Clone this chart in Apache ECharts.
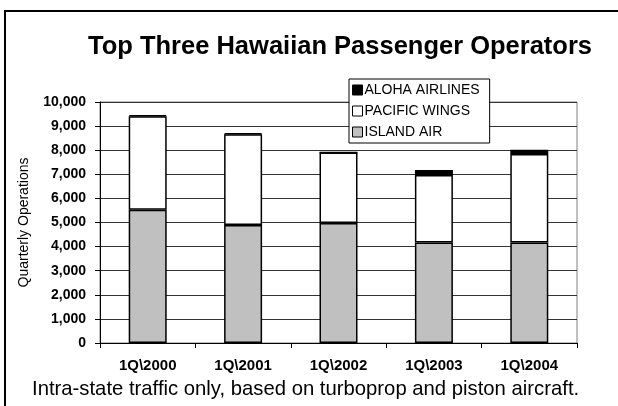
<!DOCTYPE html>
<html>
<head>
<meta charset="utf-8">
<script src="https://cdn.jsdelivr.net/npm/echarts@6/dist/echarts.min.js"></script>
<style>
  html, body { margin: 0; padding: 0; background: #fff; }
  #chart { width: 618px; height: 406px; }
</style>
</head>
<body>
<div id="chart"></div>
<script>
// Quarterly operations
var quarters = ["1Q\\2000", "1Q\\2001", "1Q\\2002", "1Q\\2003", "1Q\\2004"];
var islandAir = [5530, 4900, 4980, 4170, 4170];
var pacificWings = [3880, 3760, 2920, 2800, 3670];
var alohaAirlines = [40, 40, 0, 210, 180];

var FONT = "Liberation Sans, Arial, sans-serif";

var chartDom = document.getElementById("chart");
var myChart = echarts.init(chartDom);

var barStyle = function (color) {
  return { color: color, borderColor: "#000", borderWidth: 1.5 };
};

var option = {
  animation: false,
  backgroundColor: "#fff",
  title: {
    text: "Top Three Hawaiian Passenger Operators",
    left: 88,
    top: 34,
    padding: 0,
    textStyle: { fontFamily: FONT, fontSize: 25.5, fontWeight: "bold", color: "#000" },
  },
  legend: {
    orient: "vertical",
    left: 349,
    top: 79,
    padding: [4, 10, 4, 3],
    itemGap: 7,
    itemWidth: 10,
    itemHeight: 10,
    itemStyle: { borderColor: "#000", borderWidth: 1 },
    backgroundColor: "#fff",
    borderColor: "#000",
    borderWidth: 1,
    borderRadius: 0,
    data: [
      { name: "ALOHA AIRLINES", icon: "rect" },
      { name: "PACIFIC WINGS", icon: "rect" },
      { name: "ISLAND AIR", icon: "rect" },
    ],
    textStyle: { fontFamily: FONT, fontSize: 14, color: "#000", lineHeight: 14, padding: [0, 0, 0, -3] },
  },
  grid: { left: 100, right: 41, top: 102, bottom: 63, show: true, borderColor: "#808080", borderWidth: 1 },
  xAxis: {
    type: "category",
    data: quarters,
    axisLine: { lineStyle: { color: "#000", width: 1 } },
    axisTick: { show: true, length: 5, lineStyle: { color: "#000" } },
    axisLabel: { margin: 15, fontFamily: FONT, fontSize: 15, fontWeight: "bold", color: "#000" },
  },
  yAxis: {
    type: "value",
    min: 0,
    max: 10000,
    interval: 1000,
    name: "Quarterly Operations",
    nameLocation: "middle",
    nameGap: 69,
    nameTextStyle: { fontFamily: FONT, fontSize: 14, color: "#000" },
    axisLine: { show: true, lineStyle: { color: "#000", width: 1 } },
    axisTick: { show: true, length: 5, lineStyle: { color: "#000" } },
    splitLine: { lineStyle: { color: "#333", width: 1 } },
    axisLabel: {
      margin: 14,
      fontFamily: FONT,
      fontSize: 14,
      fontWeight: "bold",
      color: "#000",
      formatter: function (v) { return v.toLocaleString("en-US"); },
    },
  },
  graphic: [
    { type: "line", shape: { x1: 5, y1: 10, x2: 5, y2: 406 }, style: { stroke: "#000", lineWidth: 2 } },
    { type: "line", shape: { x1: 4, y1: 11, x2: 618, y2: 11 }, style: { stroke: "#000", lineWidth: 2 } },
    {
      type: "text",
      left: 32,
      top: 379,
      style: {
        text: "Intra-state traffic only, based on turboprop and piston aircraft.",
        font: "20.3px " + FONT,
        fill: "#000",
      },
    },
  ],
  series: [
    { name: "ISLAND AIR", type: "bar", stack: "ops", barWidth: 38, data: islandAir, itemStyle: barStyle("#c0c0c0") },
    { name: "PACIFIC WINGS", type: "bar", stack: "ops", barWidth: 38, data: pacificWings, itemStyle: barStyle("#fff") },
    { name: "ALOHA AIRLINES", type: "bar", stack: "ops", barWidth: 38, data: alohaAirlines, itemStyle: barStyle("#000") },
  ],
};
myChart.setOption(option);
</script>
</body>
</html>
